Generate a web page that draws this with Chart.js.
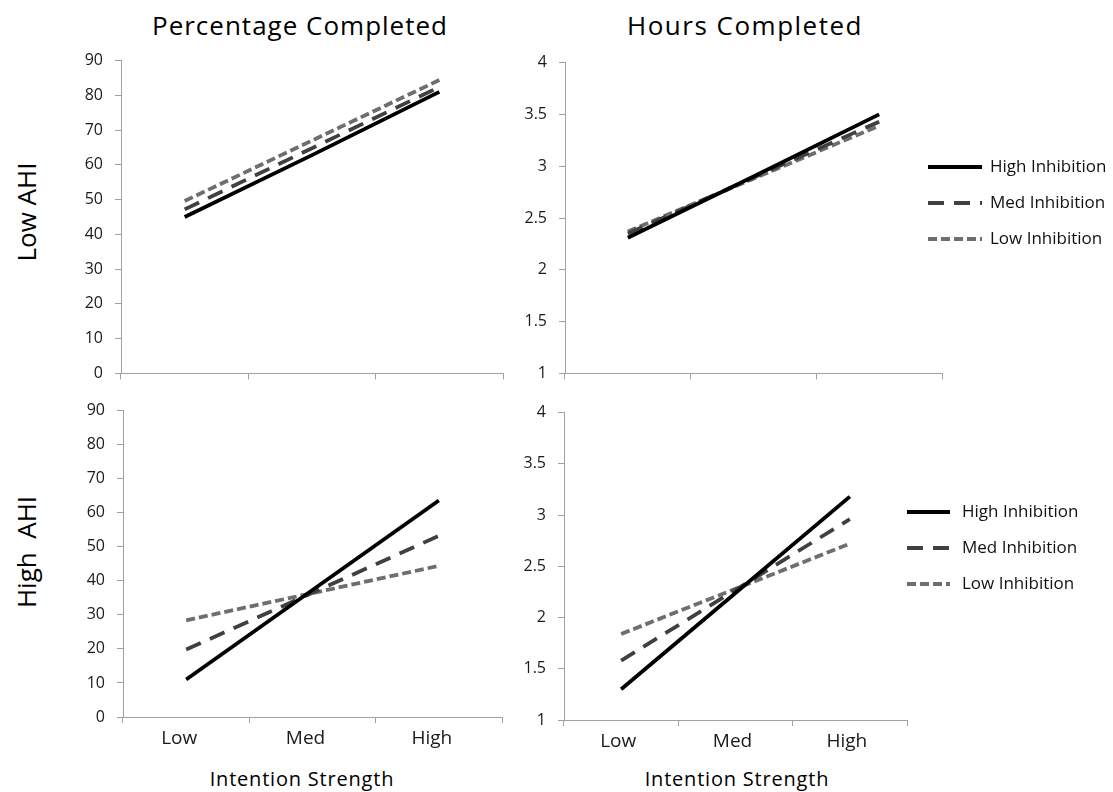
<!DOCTYPE html>
<html>
<head>
<meta charset="utf-8">
<script src="https://cdn.jsdelivr.net/npm/chart.js@4"></script>
<style>
  html, body { margin: 0; padding: 0; background: #fff; }
  body { width: 1113px; height: 792px; position: relative; overflow: hidden; font-family: "Open Sans", sans-serif; color: #000; }
  .box { position: absolute; }
  .txt { position: absolute; white-space: nowrap; transform: translate(-50%, -50%); line-height: 1; }
  .rot { transform: translate(-50%, -50%) rotate(-90deg); }
</style>
</head>
<body>
<div class="txt" style="left:300px; top:25px; font-size:26px; letter-spacing:1px;">Percentage Completed</div>
<div class="txt" style="left:745px; top:25px; font-size:26px; letter-spacing:1.5px;">Hours Completed</div>
<div class="txt rot" style="left:26px; top:212px; font-size:26px;">Low AHI</div>
<div class="txt rot" style="left:26px; top:552px; font-size:26px;">High&nbsp; AHI</div>
<div class="txt" style="left:302px; top:779px; font-size:20px; letter-spacing:0.8px;">Intention Strength</div>
<div class="txt" style="left:737px; top:779px; font-size:20px; letter-spacing:0.8px;">Intention Strength</div>

<div class="box" style="left:81px; top:39px; width:427px; height:356px;"><canvas id="c1"></canvas></div>
<div class="box" style="left:525px; top:41px; width:588px; height:354px;"><canvas id="c2"></canvas></div>
<div class="box" style="left:83px; top:389px; width:424px; height:403px;"><canvas id="c3"></canvas></div>
<div class="box" style="left:524px; top:391px; width:589px; height:401px;"><canvas id="c4"></canvas></div>

<script>
// categories and series
const categories = ['Low', 'Med', 'High'];
const seriesNames = ['High Inhibition', 'Med Inhibition', 'Low Inhibition'];

// Low AHI, percentage completed
const pctLowAhiHigh = [45, 62.8, 81];
const pctLowAhiMed = [47.2, 64.8, 82.4];
const pctLowAhiLow = [49.6, 67, 84.4];

// Low AHI, hours completed
const hrsLowAhiHigh = [2.31, 2.9, 3.5];
const hrsLowAhiMed = [2.35, 2.89, 3.43];
const hrsLowAhiLow = [2.37, 2.88, 3.39];

// High AHI, percentage completed
const pctHighAhiHigh = [11, 37.3, 63.6];
const pctHighAhiMed = [19.8, 36.5, 53.2];
const pctHighAhiLow = [28.4, 36.4, 44.4];

// High AHI, hours completed
const hrsHighAhiHigh = [1.3, 2.24, 3.18];
const hrsHighAhiMed = [1.58, 2.27, 2.96];
const hrsHighAhiLow = [1.84, 2.28, 2.72];

// axis ranges
const pctTicks = { min: 0, max: 90, step: 10 };
const hrsTicks = { min: 1, max: 4, step: 0.5 };

const lineStyles = [
    { color: '#000000', dash: [] },
    { color: '#404040', dash: [16, 10] },
    { color: '#6e6e6e', dash: [9, 4] }
];

const axisGray = '#a0a0a0';
const fontFamily = '"Open Sans", sans-serif';

function makeDatasets(seriesValues) {
    return seriesValues.map(function (values, i) {
        return {
            label: seriesNames[i],
            data: values,
            borderColor: lineStyles[i].color,
            backgroundColor: lineStyles[i].color,
            borderDash: lineStyles[i].dash,
            borderWidth: 3.8,
            borderCapStyle: 'butt',
            pointRadius: 0,
            tension: 0,
            fill: false
        };
    });
}

// legend drawn next to the plot, lines use the dataset styles
const sideLegend = {
    id: 'sideLegend',
    afterDraw: function (chart, args, opts) {
        if (!opts || !opts.show) return;
        const ctx = chart.ctx;
        ctx.save();
        chart.data.datasets.forEach(function (ds, i) {
            const y = opts.y + i * opts.gap;
            ctx.beginPath();
            ctx.strokeStyle = ds.borderColor;
            ctx.lineWidth = 3.8;
            ctx.setLineDash(ds.borderDash);
            ctx.moveTo(opts.x, y);
            ctx.lineTo(opts.x + opts.len, y);
            ctx.stroke();
            ctx.setLineDash([]);
            ctx.fillStyle = '#111';
            ctx.font = '17px ' + fontFamily;
            ctx.textBaseline = 'middle';
            ctx.fillText(ds.label, opts.x + opts.len + opts.textGap, y);
        });
        ctx.restore();
    }
};

function makeChart(id, seriesValues, range, opt) {
    const ctx = document.getElementById(id).getContext('2d');
    return new Chart(ctx, {
        type: 'line',
        data: {
            labels: categories,
            datasets: makeDatasets(seriesValues)
        },
        options: {
            responsive: true,
            maintainAspectRatio: false,
            animation: false,
            layout: { padding: opt.padding },
            scales: {
                x: {
                    type: 'category',
                    offset: true,
                    grid: {
                        offset: true,
                        drawOnChartArea: false,
                        drawTicks: true,
                        tickLength: 6,
                        color: function (c) { return c.index === 3 ? 'rgba(0,0,0,0)' : axisGray; }
                    },
                    border: { color: axisGray, width: 1 },
                    ticks: {
                        display: opt.showCats,
                        padding: 4,
                        labelOffset: opt.labelOffset || 0,
                        color: '#1a1a1a',
                        font: { family: fontFamily, size: 19 },
                        maxRotation: 0
                    },
                    afterFit: function (s) { s.height = opt.xHeight; }
                },
                y: {
                    min: range.min,
                    max: range.max,
                    grid: {
                        drawOnChartArea: false,
                        drawTicks: true,
                        tickLength: 6,
                        color: axisGray
                    },
                    border: { color: axisGray, width: 1 },
                    ticks: {
                        stepSize: range.step,
                        padding: 12,
                        color: '#1a1a1a',
                        font: { family: fontFamily, size: 16 },
                        callback: function (v) { return String(v); }
                    },
                    afterFit: function (s) { s.width = 40; }
                }
            },
            plugins: {
                legend: { display: false },
                tooltip: { enabled: false },
                sideLegend: opt.legend || { show: false }
            }
        },
        plugins: [sideLegend]
    });
}

document.fonts.ready.then(function () {
    makeChart('c1', [pctLowAhiHigh, pctLowAhiMed, pctLowAhiLow], pctTicks, {
        padding: { top: 0, right: 5, left: 0, bottom: 0 }, xHeight: 10, showCats: false
    });
    makeChart('c2', [hrsLowAhiHigh, hrsLowAhiMed, hrsLowAhiLow], hrsTicks, {
        padding: { top: 0, right: 171, left: 0, bottom: 0 }, xHeight: 10, showCats: false,
        legend: { show: true, x: 403, y: 126, gap: 36, len: 54, textGap: 8 }
    });
    makeChart('c3', [pctHighAhiHigh, pctHighAhiMed, pctHighAhiLow], pctTicks, {
        padding: { top: 0, right: 5, left: 0, bottom: 0 }, xHeight: 75, showCats: true, labelOffset: -7
    });
    makeChart('c4', [hrsHighAhiHigh, hrsHighAhiMed, hrsHighAhiLow], hrsTicks, {
        padding: { top: 0, right: 206, left: 0, bottom: 0 }, xHeight: 72, showCats: true, labelOffset: -3,
        legend: { show: true, x: 383, y: 121, gap: 36, len: 43, textGap: 12 }
    });
});
</script>
</body>
</html>
